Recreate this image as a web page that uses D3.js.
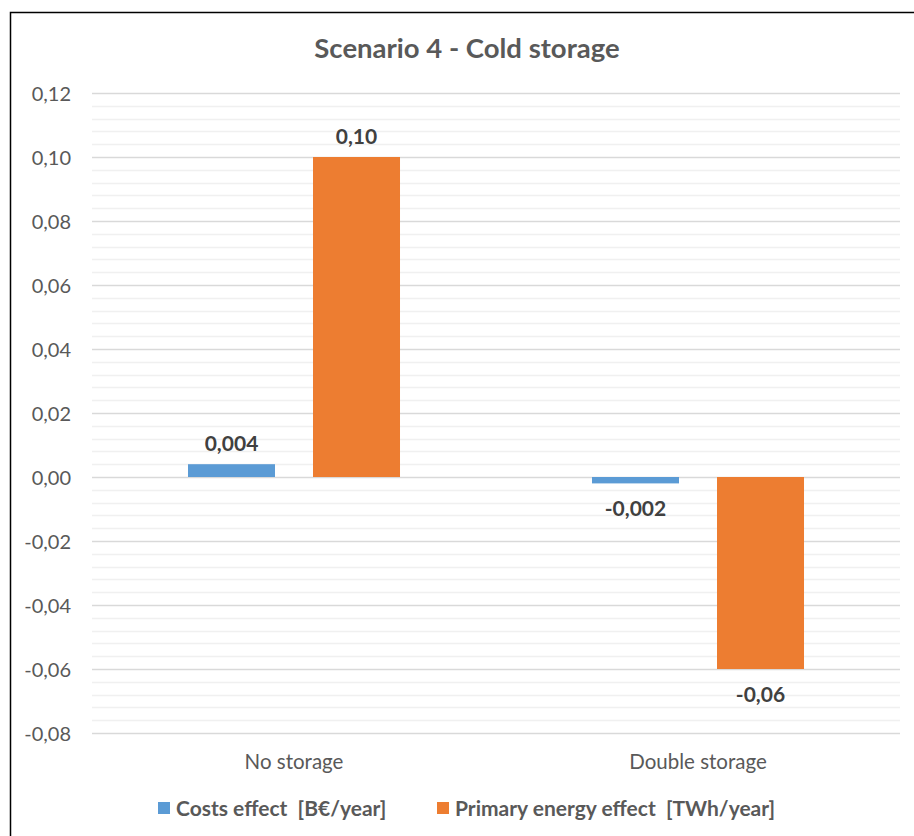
<!DOCTYPE html>
<html>
<head>
<meta charset="utf-8">
<script src="https://cdn.jsdelivr.net/npm/d3@7"></script>
<style>
  html, body { margin: 0; padding: 0; background: #fff; }
  svg { display: block; }
  text { font-family: Lato, "Open Sans", sans-serif; }
</style>
</head>
<body>
<svg id="chart" width="914" height="836"></svg>
<script>
// Scenario categories and series
const categories = ["No storage", "Double storage"];
const seriesNames = ["Costs effect  [B€/year]", "Primary energy effect  [TWh/year]"];
const costsEffect = [0.004, -0.002];
const energyEffect = [0.10, -0.06];
const valueLabels = [["0,004", "-0,002"], ["0,10", "-0,06"]];
const yTicks = [0.12, 0.10, 0.08, 0.06, 0.04, 0.02, 0.00, -0.02, -0.04, -0.06, -0.08];
const colors = ["#5B9BD5", "#ED7D31"];

const series = [costsEffect, energyEffect];

const svg = d3.select("#chart");
const plot = { left: 92, right: 900, top: 93, bottom: 733 };

// Outer frame (top and left edges visible)
svg.append("path")
  .attr("d", "M10.5,836 L10.5,12.5 L914,12.5")
  .attr("fill", "none").attr("stroke", "#000").attr("stroke-width", 1.5);

// Title
svg.append("text")
  .attr("x", 467).attr("y", 58)
  .attr("text-anchor", "middle")
  .attr("font-size", 27.5).attr("font-weight", "bold")
  .attr("fill", "#595959")
  .text("Scenario 4 - Cold storage");

const y = d3.scaleLinear().domain([-0.08, 0.12]).range([plot.bottom, plot.top]);
const x0 = d3.scaleBand().domain(categories).range([plot.left, plot.right]).padding(0);
const bw = x0.bandwidth();
const x1 = d3.scaleBand().domain(d3.range(series.length))
  .range([bw * 0.2376, bw * 0.7624]).paddingInner(0.304).paddingOuter(0);

// Minor gridlines
const minor = d3.range(-0.08, 0.12 + 1e-9, 0.004).filter(v => Math.abs(Math.round(v / 0.02) * 0.02 - v) > 1e-6);
svg.append("g").selectAll("line").data(minor).join("line")
  .attr("x1", plot.left).attr("x2", plot.right)
  .attr("y1", d => Math.round(y(d)) + 0.5).attr("y2", d => Math.round(y(d)) + 0.5)
  .attr("stroke", "#f0f0f0").attr("stroke-width", 1.5);

// Y axis with major gridlines
const yAxis = d3.axisLeft(y).tickValues(yTicks)
  .tickSize(-(plot.right - plot.left))
  .tickFormat(d => d3.format(".2f")(d).replace(".", ",").replace("−", "-"));
const gy = svg.append("g").attr("transform", `translate(${plot.left},0)`).call(yAxis);
gy.select(".domain").remove();
gy.selectAll(".tick line").attr("stroke", "#d9d9d9").attr("stroke-width", 1.5);
gy.selectAll(".tick text")
  .attr("x", -21).attr("dy", "0.35em")
  .attr("font-size", 20).attr("fill", "#595959")
  .style("font-family", "Lato, sans-serif");

// Bars
const groups = svg.append("g").selectAll("g").data(categories).join("g")
  .attr("transform", d => `translate(${x0(d)},0)`);

groups.each(function(cat, ci) {
  const g = d3.select(this);
  series.forEach((vals, si) => {
    const v = vals[ci];
    g.append("rect")
      .attr("x", x1(si))
      .attr("width", x1.bandwidth())
      .attr("y", y(Math.max(0, v)))
      .attr("height", Math.abs(y(v) - y(0)))
      .attr("fill", colors[si]);
    const above = v >= 0;
    g.append("text")
      .attr("x", x1(si) + x1.bandwidth() / 2)
      .attr("y", above ? y(v) - 13 : y(v) + 33)
      .attr("text-anchor", "middle")
      .attr("font-size", 21).attr("font-weight", "bold")
      .attr("fill", "#404040")
      .text(valueLabels[si][ci]);
  });
});

// Category axis labels
svg.append("g").selectAll("text").data(categories).join("text")
  .attr("x", d => x0(d) + bw / 2)
  .attr("y", 769)
  .attr("text-anchor", "middle")
  .attr("font-size", 20.5).attr("fill", "#595959")
  .text(d => d);

// Legend
const legend = svg.append("g");
const legendItems = [{ x: 158 }, { x: 437 }];
seriesNames.forEach((name, i) => {
  const lx = legendItems[i].x;
  legend.append("rect").attr("x", lx).attr("y", 802).attr("width", 12).attr("height", 12).attr("fill", colors[i]);
  legend.append("text").attr("x", lx + 18).attr("y", 815.5)
    .attr("font-size", 21).attr("font-weight", "bold").attr("fill", "#595959")
    .attr("xml:space", "preserve")
    .style("white-space", "pre")
    .text(name);
});
</script>
</body>
</html>
